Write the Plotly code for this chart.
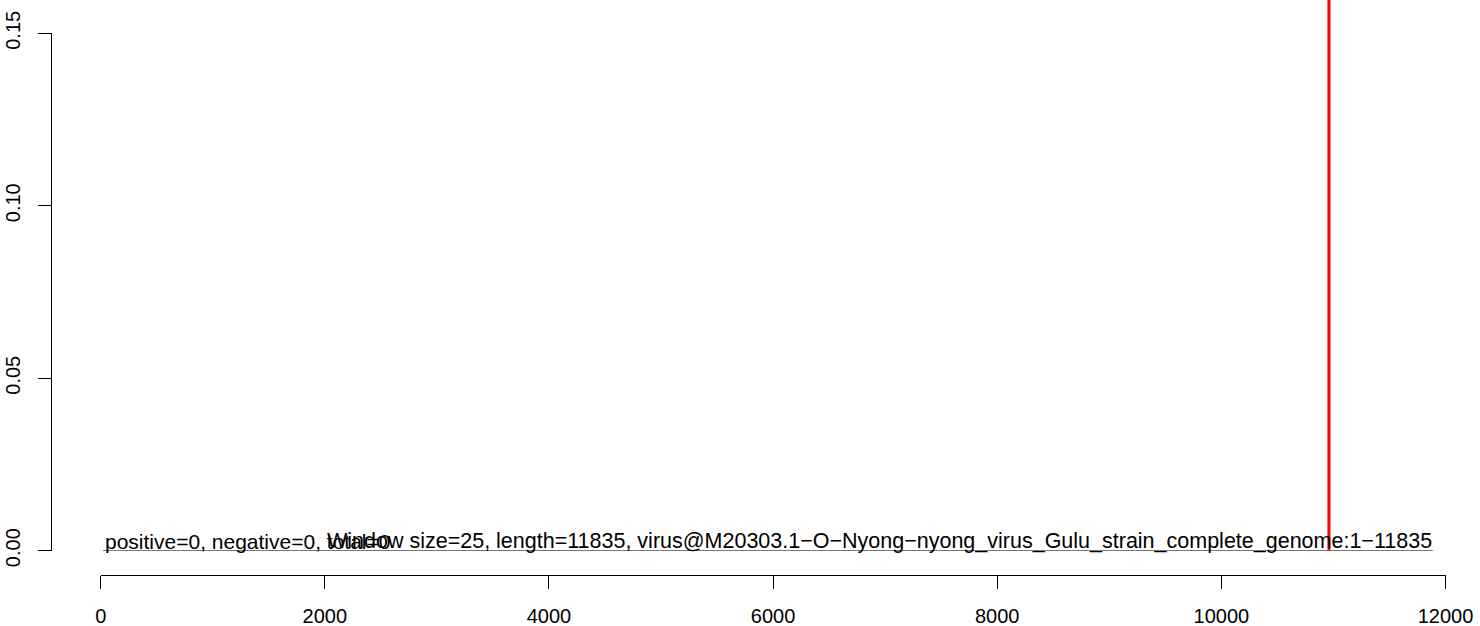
import plotly.graph_objects as go

# ---- data ----
x_ticks = [0, 2000, 4000, 6000, 8000, 10000, 12000]
y_ticks = [0.00, 0.05, 0.10, 0.15]
y_tick_labels = ["0.00", "0.05", "0.10", "0.15"]
baseline_x = [20, 11887]
baseline_y = [0, 0]
marker_x = [10960, 10960]
marker_y = [0, 0.2]
label_left = "positive=0, negative=0, total=0"
label_left_x = 20
label_main = ("Window size=25, length=11835, "
              "virus@M20303.1\u2212O\u2212Nyong\u2212nyong_virus_Gulu_strain_complete_genome:1\u221211835")
label_main_x = 2000

W, H = 1480, 626
FONT = "Liberation Sans, Arial, sans-serif"

def fx(px):
    return px / W

def fy(py):
    return (H - py) / H

x0_px, x1_px = 100.7, 1445.5
y0_px, y15_px = 550.7, 33.3
px_per_unit_y = (y0_px - y15_px) / 0.15
ytop_val = y0_px / px_per_unit_y

fig = go.Figure()
# invisible trace to activate the visible y axis
fig.add_trace(go.Scatter(x=[None], y=[None], xaxis="x", yaxis="y",
                         showlegend=False, hoverinfo="skip"))
fig.add_trace(go.Scatter(x=baseline_x, y=baseline_y, mode="lines", xaxis="x", yaxis="y2",
                         line=dict(color="#222222", width=1), hoverinfo="skip",
                         showlegend=False))
fig.add_trace(go.Scatter(x=marker_x, y=marker_y, mode="lines", xaxis="x", yaxis="y2",
                         line=dict(color="#ff0000", width=3), hoverinfo="skip",
                         showlegend=False))

fig.add_annotation(x=label_left_x, y=0, xref="x", yref="y", text=label_left,
                   showarrow=False, xanchor="left", yanchor="bottom", yshift=-4,
                   font=dict(family=FONT, size=21, color="black"))
fig.add_annotation(x=label_main_x, y=0, xref="x", yref="y", text=label_main,
                   showarrow=False, xanchor="left", yanchor="bottom", yshift=-4,
                   font=dict(family=FONT, size=21.5, color="black"))

fig.update_layout(
    width=W, height=H,
    margin=dict(l=0, r=0, t=0, b=0, pad=0),
    paper_bgcolor="white", plot_bgcolor="white",
    showlegend=False,
    font=dict(family=FONT, size=20, color="black"),
    xaxis=dict(domain=[fx(x0_px), fx(x1_px)], range=[0, 12000],
               anchor="free", position=fy(575),
               showgrid=False, zeroline=False, showline=True,
               linecolor="black", linewidth=1,
               ticks="outside", ticklen=13, tickwidth=1, tickcolor="black",
               tickvals=x_ticks, ticktext=[str(v) for v in x_ticks],
               ticklabelstandoff=10,
               tickfont=dict(family=FONT, size=20, color="black"),
               automargin=False),
    yaxis=dict(domain=[fy(y0_px), fy(y15_px)], range=[0, 0.15],
               anchor="free", position=fx(51),
               showgrid=False, zeroline=False, showline=True,
               linecolor="black", linewidth=1,
               ticks="outside", ticklen=13, tickwidth=1, tickcolor="black",
               tickvals=y_ticks, ticktext=y_tick_labels, tickangle=-90,
               ticklabelstandoff=10,
               tickfont=dict(family=FONT, size=20, color="black"),
               automargin=False),
    yaxis2=dict(domain=[fy(y0_px), 1.0], range=[0, ytop_val],
                anchor="x", visible=False, automargin=False),
)

fig.write_html("out.html", config={"displayModeBar": False},
               post_script="document.body.style.margin='0';document.body.style.overflow='hidden';")
